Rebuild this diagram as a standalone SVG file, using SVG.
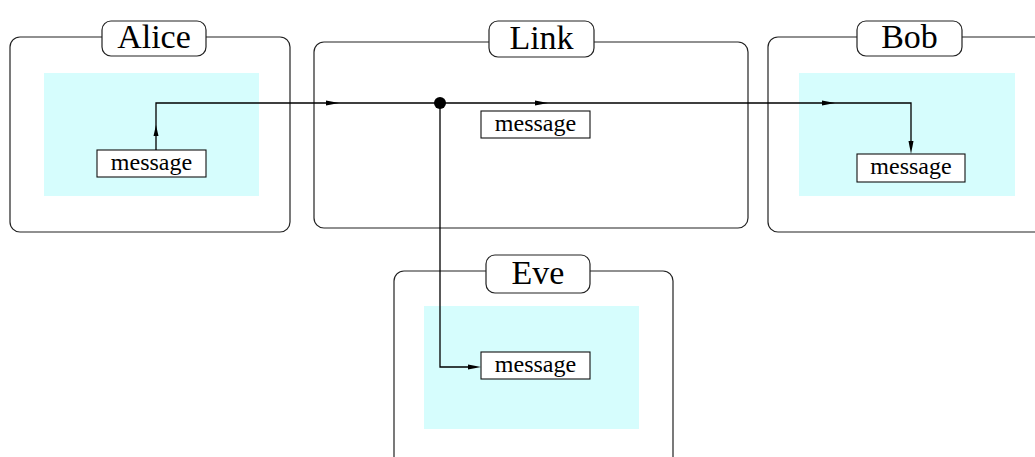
<svg xmlns="http://www.w3.org/2000/svg" width="1035" height="457" viewBox="0 0 1035 457">
<style>
.frame{fill:none;stroke:#222;stroke-width:1.2}
.lbl{fill:#fff;stroke:#222;stroke-width:1.2}
.zone{fill:#d6fdfd;stroke:none}
.msg{fill:#fff;stroke:#111;stroke-width:1.1}
.t{font-family:"Liberation Serif","Times New Roman",serif;fill:#000;text-anchor:middle}
.big{font-size:34px}
.small{font-size:24px}
.wire{fill:none;stroke:#000;stroke-width:1.3}
.head{fill:#000}
</style>
<rect width="1035" height="457" fill="#fff"/>
<g id="alice">
<rect class="frame" x="10" y="37" width="280" height="195" rx="10"/>
<rect class="zone" x="44" y="73" width="215" height="123"/>
<rect class="lbl" x="102" y="21" width="104" height="35" rx="9"/>
<text class="t big" x="154" y="48">Alice</text>
<rect class="msg" x="97" y="150" width="109" height="27"/>
<text class="t small" x="151.5" y="170">message</text>
</g>
<g id="link">
<rect class="frame" x="314" y="42" width="434" height="186" rx="10"/>
<rect class="lbl" x="489" y="21" width="105" height="36" rx="9"/>
<text class="t big" x="541.5" y="49">Link</text>
<rect class="msg" x="481" y="111" width="109" height="27"/>
<text class="t small" x="535.5" y="131">message</text>
</g>
<g id="bob">
<rect class="frame" x="768" y="37" width="300" height="195" rx="10"/>
<rect class="zone" x="799" y="73" width="216" height="123"/>
<rect class="lbl" x="857" y="21" width="105" height="35" rx="9"/>
<text class="t big" x="909.5" y="48">Bob</text>
<rect class="msg" x="857" y="154" width="108" height="28"/>
<text class="t small" x="911" y="174">message</text>
</g>
<g id="eve">
<rect class="frame" x="394" y="271" width="279" height="220" rx="10"/>
<rect class="zone" x="424" y="306" width="215" height="123"/>
<rect class="lbl" x="486" y="255" width="104" height="38" rx="9"/>
<text class="t big" x="538" y="284">Eve</text>
<rect class="msg" x="481" y="352" width="109" height="27"/>
<text class="t small" x="535.5" y="372">message</text>
</g>
<g id="connectors">
<path class="wire" d="M156 150 V103 H911 V148"/>
<path class="wire" d="M440 103 V367 H476"/>
<circle cx="440" cy="103" r="6" class="head"/>
<polygon class="head" points="156,125 153.5,136 158.5,136"/>
<polygon class="head" points="339,103 326,100.5 326,105.5"/>
<polygon class="head" points="548,103 535,100.5 535,105.5"/>
<polygon class="head" points="835,103 822,100.5 822,105.5"/>
<polygon class="head" points="911,154 908.5,141 913.5,141"/>
<polygon class="head" points="481,367 468,364.5 468,369.5"/>
</g>
</svg>
